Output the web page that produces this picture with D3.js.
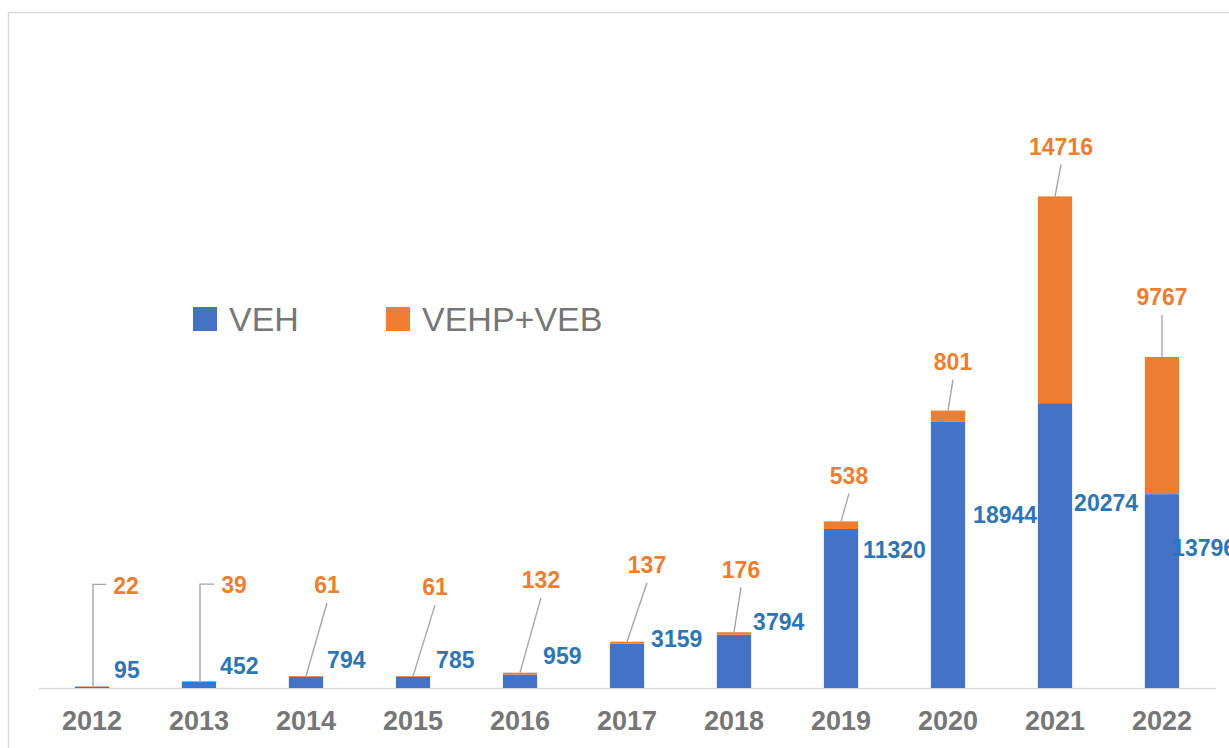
<!DOCTYPE html>
<html>
<head>
<meta charset="utf-8">
<script src="https://cdn.jsdelivr.net/npm/d3@7"></script>
<style>
  html, body { margin: 0; padding: 0; background: #fff; }
  svg { display: block; }
  text { font-family: "Liberation Sans", Arial, sans-serif; }
</style>
</head>
<body>
<div id="chart"></div>
<script>
// ---- Data ----
const years = ["2012","2013","2014","2015","2016","2017","2018","2019","2020","2021","2022"];
const vehValues = [95, 452, 794, 785, 959, 3159, 3794, 11320, 18944, 20274, 13796];
const vehpVebValues = [22, 39, 61, 61, 132, 137, 176, 538, 801, 14716, 9767];
const seriesNames = ["VEH", "VEHP+VEB"];

// ---- Label layout (manual annotation offsets, as placed in the original) ----
const vehLabelDx = [5, 4, 4, 6, 6, 7, 2, 5, 8, 2, -7];            // from bar right edge
const vehLabelDy = [-17, -16, -17, -17, -19, -5, -13, 21, 93, 100, 54]; // from VEH top
const topLabelDx = [34, 35, 21, 22, 21, 20, 7, 8, 5, 6, 0];       // from bar centre
const topLabelDy = [-101, -96, -91, -89, -93, -77, -63, -46, -49, -50, -60]; // from stack top
const elbowLeader = [true, true, false, false, false, false, false, false, false, false, false];

const W = 1229, H = 748;
const colors = { veh: "#4472C4", vehp: "#ED7D31", vehText: "#2E75B6", vehpText: "#ED7D31",
                 axis: "#D9D9D9", tick: "#767676", leader: "#A6A6A6" };

const svg = d3.select("#chart").append("svg").attr("width", W).attr("height", H);

// chart frame
svg.append("rect").attr("x", 8.5).attr("y", 12.5).attr("width", W + 20).attr("height", H + 20)
  .attr("fill", "none").attr("stroke", "#D9D9D9").attr("stroke-width", 1.5);

const x = d3.scaleBand().domain(years).range([38.5, 1215.5]).paddingInner(0.68).paddingOuter(0.34);
const y = d3.scaleLinear().domain([0, 40000]).range([688, 126]);

const rows = years.map((yr, i) => ({ year: yr, veh: vehValues[i], vehp: vehpVebValues[i], i }));
const stack = d3.stack().keys(["veh", "vehp"])(rows);
const fillFor = { veh: colors.veh, vehp: colors.vehp };

// axis
const xAxis = d3.axisBottom(x).tickSize(0).tickSizeOuter(0).tickPadding(23);
const gx = svg.append("g").attr("transform", "translate(0,688)").call(xAxis);
gx.select(".domain").attr("stroke", colors.axis).attr("stroke-width", 1.5);
gx.selectAll("text").attr("fill", colors.tick).attr("font-size", 27).attr("font-weight", "bold")
  .style("font-family", '"Liberation Sans", Arial, sans-serif');

// bars
svg.append("g").selectAll("g").data(stack).join("g")
  .attr("fill", d => fillFor[d.key])
  .selectAll("rect").data(d => d).join("rect")
  .attr("x", d => x(d.data.year))
  .attr("width", x.bandwidth())
  .attr("y", d => y(d[1]))
  .attr("height", d => y(d[0]) - y(d[1]));

// VEH labels
svg.append("g").selectAll("text").data(rows).join("text")
  .attr("x", d => x(d.year) + x.bandwidth() + vehLabelDx[d.i])
  .attr("y", d => y(d.veh) + vehLabelDy[d.i])
  .attr("dy", "0.36em")
  .attr("fill", colors.vehText).attr("font-size", 23).attr("font-weight", "bold")
  .text(d => d.veh);

// top labels + leaders
const topG = svg.append("g");
rows.forEach(d => {
  const cx = x(d.year) + x.bandwidth() / 2;
  const top = y(d.veh + d.vehp);
  const lx = cx + topLabelDx[d.i];
  const ly = top + topLabelDy[d.i];
  const t = topG.append("text")
    .attr("x", lx).attr("y", ly).attr("dy", "0.36em")
    .attr("text-anchor", "middle")
    .attr("fill", colors.vehpText).attr("font-size", 23).attr("font-weight", "bold")
    .text(d.vehp);
  let path;
  if (elbowLeader[d.i]) {
    const w = t.node().getComputedTextLength();
    const left = lx - w / 2 - 7;
    path = `M${left},${ly - 1}H${cx + 1}V${top}`;
  } else {
    path = `M${lx},${ly + 18}L${cx},${top}`;
  }
  topG.insert("path", "text").attr("d", path).attr("fill", "none")
    .attr("stroke", colors.leader).attr("stroke-width", 1.4);
});

// legend
const legend = svg.append("g");
const legendItems = [
  { name: seriesNames[0], color: colors.veh, x: 193 },
  { name: seriesNames[1], color: colors.vehp, x: 386 }
];
legendItems.forEach(it => {
  legend.append("rect").attr("x", it.x).attr("y", 307).attr("width", 24).attr("height", 24).attr("fill", it.color);
  legend.append("text").attr("x", it.x + 36).attr("y", 331).attr("fill", "#767676")
    .attr("font-size", 34).text(it.name);
});
</script>
</body>
</html>
